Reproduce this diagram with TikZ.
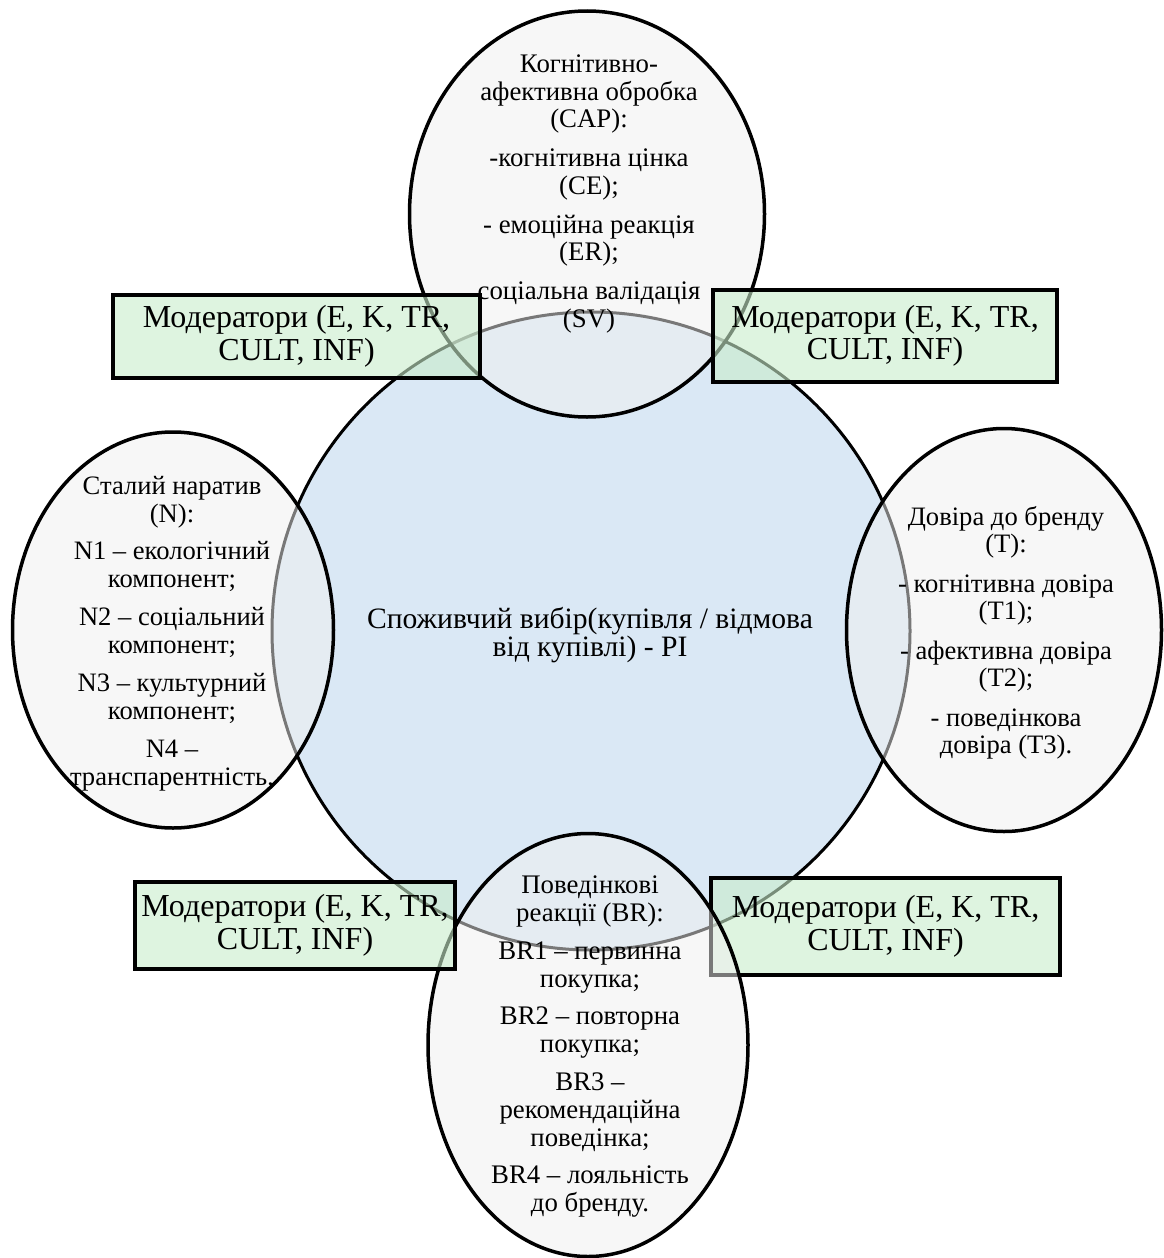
\documentclass[tikz,border=0pt]{standalone}
\usepackage{fontspec}
\setmainfont{Liberation Serif}
\usetikzlibrary{shapes.geometric}
\definecolor{piblue}{RGB}{218,232,245}
\definecolor{ellgray}{RGB}{240,240,240}
\definecolor{modgreen}{RGB}{200,236,203}
\newcommand\tightlinesPI{\lineskiplimit=-20pt\relax}
\begin{document}
\begin{tikzpicture}[x=0.5pt,y=-0.5pt,
  core/.style={circle, draw=black, line width=1.5pt, fill=piblue, minimum size=319pt, inner sep=0pt},
  oval/.style={ellipse, draw=black, line width=1.75pt, fill=ellgray, fill opacity=0.5, draw opacity=1, inner sep=0pt},
  modbox/.style={rectangle, draw=black, line width=2pt, fill=modgreen, fill opacity=0.6, text opacity=1, inner sep=0pt, align=center, font=\fontsize{16}{16.3}\selectfont\tightlinesPI},
  ovaltext/.style={align=center, inner sep=0pt},
  coretext/.style={align=center, inner sep=0pt, font=\fontsize{14.8}{13.7}\selectfont\tightlinesPI}]
\useasboundingbox (0,0) rectangle (1163,1258);
\node[core] (pi) at (591,631) {};
\node[oval, minimum width=177.5pt, minimum height=203pt] (cap) at (587,214) {};
\node[oval, minimum width=160.5pt, minimum height=198pt] (nar) at (173,630) {};
\node[oval, minimum width=157.5pt, minimum height=201.5pt] (trust) at (1004,630) {};
\node[modbox, minimum width=174.5pt, minimum height=48.5pt] (modBR) at (885.5,926.5) {Модератори (E, K, TR,\\CULT, INF)};
\node[oval, minimum width=160pt, minimum height=211.5pt] (br) at (588,1045) {};
\node[modbox, minimum width=183.5pt, minimum height=41.5pt] (modTL) at (296.5,336.5) {Модератори (E, K, TR,\\CULT, INF)};
\node[modbox, minimum width=172pt, minimum height=46pt] (modTR) at (885,336) {Модератори (E, K, TR,\\CULT, INF)};
\node[modbox, minimum width=160pt, minimum height=43.5pt] (modBL) at (295,925.5) {Модератори (E, K, TR,\\CULT, INF)};
\node[ovaltext, font=\fontsize{13.4}{13.75}\selectfont] (captext) at (589,194) {Когнітивно-\\афективна обробка\\(CAP):\\[5.75pt]-когнітивна цінка\\(CE);\\[5.75pt]- емоційна реакція\\(ER);\\[5.75pt]соціальна валідація\\(SV)};
\node[ovaltext, font=\fontsize{13.3}{14}\selectfont] (nartext) at (172,633.5) {Сталий наратив\\(N):\\[4.9pt]N1 – екологічний\\компонент;\\[4.9pt]N2 – соціальний\\компонент;\\[4.9pt]N3 – культурний\\компонент;\\[4.9pt]N4 –\\транспарентність,};
\node[ovaltext, font=\fontsize{13.3}{13.5}\selectfont] (trusttext) at (1006,632.5) {Довіра до бренду\\(T):\\[6.5pt]- когнітивна довіра\\(T1);\\[6.5pt]- афективна довіра\\(T2);\\[6.5pt]- поведінкова\\довіра (T3).};
\node[ovaltext, font=\fontsize{13.4}{14}\selectfont] (brtext) at (590,1047) {Поведінкові\\реакції (BR):\\[4.75pt]BR1 – первинна\\покупка;\\[4.75pt]BR2 – повторна\\покупка;\\[4.75pt]BR3 –\\рекомендаційна\\поведінка;\\[4.75pt]BR4 – лояльність\\до бренду.};
\node[coretext] (pitext) at (590,635) {Споживчий вибір(купівля / відмова\\від купівлі) - PI};
\end{tikzpicture}
\end{document}
